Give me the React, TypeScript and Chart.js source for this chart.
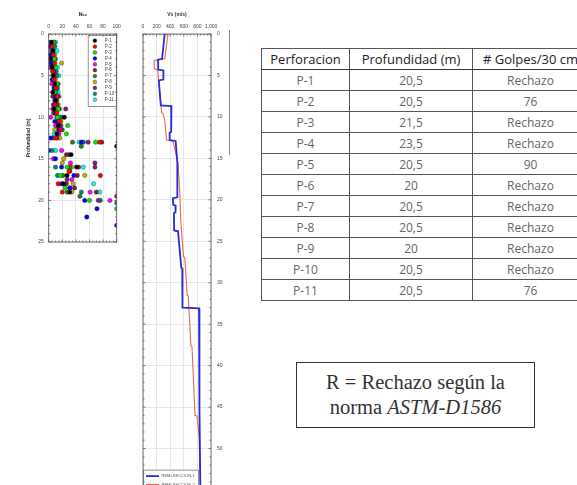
import React, { useEffect, useRef } from 'react';
import { Chart, registerables } from 'chart.js';
Chart.register(...registerables);

// ---------- N60 scatter data ----------
const SERIES_LABELS = ['P-1', 'P-2', 'P-3', 'P-4', 'P-5', 'P-6', 'P-7', 'P-8', 'P-9', 'P-10', 'P-11'];
const SERIES_COLORS = ['#000000', '#ff0000', '#00ee00', '#0000ff', '#ff00ff', '#8b1a2a', '#2e7d1e', '#c8b000', '#7a1f7a', '#008b80', '#00ffff'];

const DEPTH_INT = [1, 2, 3, 4, 5, 6, 7, 8, 9, 10, 11, 12];
const DEPTH_HALF = [1.5, 2.5, 3.5, 4.5, 5.5, 6.5, 7.5, 8.5, 9.5, 10.5, 11.5, 12.5];

const P1_SHALLOW = [4, 6, 3, 5, 7, 9, 6, 10, 8, 23, 14, 12];
const P2_SHALLOW = [5, 7, 9, 6, 8, 11, 13, 9, 12, 16, 18, 10];
const P3_SHALLOW = [7, 5, 8, 10, 6, 12, 9, 11, 14, 13, 28, 26];
const P4_SHALLOW = [3, 2, 4, 6, 5, 8, 10, 7, 11, 9, 15, 3];
const P5_SHALLOW = [6, 4, 7, 2, 9, 5, 8, 12, 6, 3, 10, 15];
const P6_SHALLOW = [2, 5, 3, 8, 7, 10, 6, 12, 9, 14, 17, 12];
const P7_SHALLOW = [8, 6, 10, 9, 12, 14, 7, 11, 15, 17, 12, 13];
const P8_SHALLOW = [5, 9, 19, 7, 10, 8, 12, 14, 11, 18, 9, 16];
const P9_SHALLOW = [3, 6, 4, 2, 8, 7, 10, 9, 25, 12, 18, 14];
const P10_SHALLOW = [9, 7, 6, 11, 8, 13, 15, 10, 7, 14, 20, 6];
const P11_SHALLOW = [10, 12, 8, 13, 15, 9, 14, 11, 16, 19, 13, 8];

// deep points: [depth, N]
const P1_DEEP = [[13.5, 100], [14.5, 33], [16, 41], [17, 27], [18, 22], [19, 31]];
const P2_DEEP = [[13, 75], [16.5, 30], [17, 76], [18, 14], [19, 20], [19.5, 100]];
const P3_DEEP = [[13, 69], [16, 27], [17, 17], [18.5, 24], [20, 60], [21, 100]];
const P4_DEEP = [[13, 48], [14, 0], [15, 10], [16, 19], [17, 37], [18, 19], [18.5, 31], [20, 53], [21, 71], [22, 56], [23, 100]];
const P5_DEEP = [[14, 19], [15, 7], [15.5, 32], [17.5, 34], [19, 61], [20, 90]];
const P6_DEEP = [[13, 78], [14.5, 26], [16, 44], [16.5, 31], [17, 42], [18, 26], [18.5, 38], [19, 70]];
const P7_DEEP = [[13, 35], [13.5, 48], [16, 31], [17, 21], [19, 27], [19.5, 46]];
const P8_DEEP = [[15, 22], [15.5, 20], [16, 34], [17, 53], [18, 36], [19, 34]];
const P9_DEEP = [[13, 58], [14.5, 30], [15.5, 68], [16, 68], [17.5, 27], [18.5, 31], [20, 73]];
const P10_DEEP = [[13, 51], [14, 5], [16, 10], [17, 13], [19, 48], [20, 76], [20.3, 100]];
const P11_DEEP = [[13, 45], [14, 10], [16, 51], [18, 66], [19, 75]];

const SHALLOW = [P1_SHALLOW, P2_SHALLOW, P3_SHALLOW, P4_SHALLOW, P5_SHALLOW, P6_SHALLOW, P7_SHALLOW, P8_SHALLOW, P9_SHALLOW, P10_SHALLOW, P11_SHALLOW];
const DEEP = [P1_DEEP, P2_DEEP, P3_DEEP, P4_DEEP, P5_DEEP, P6_DEEP, P7_DEEP, P8_DEEP, P9_DEEP, P10_DEEP, P11_DEEP];

const N_TICKS = [0, 20, 40, 60, 80, 100];
const DEPTH_TICKS_N = [0, 5, 10, 15, 20, 25];

// ---------- Vs profile data ----------
const VS1_LABEL = 'REMI-SECCION-1';
const VS1_DEPTH = [0, 3.0, 3.1, 4.3, 4.4, 5.5, 5.6, 8.6, 8.7, 11.8, 11.9, 12.8, 12.9, 15.6, 19.7, 19.8, 20.6, 20.7, 21.5, 21.6, 23.7, 23.8, 28.2, 28.3, 33.0, 33.1, 45, 56];
const VS1_VALUES = [320, 280, 220, 225, 300, 300, 232, 262, 418, 415, 392, 392, 480, 505, 505, 440, 445, 480, 478, 455, 458, 515, 563, 578, 580, 824, 830, 845];

const VS2_LABEL = 'REMI-SECCION-2';
const VS2_DEPTH = [0, 3.0, 3.2, 4.2, 4.3, 5.5, 9.5, 9.6, 10.4, 12.8, 12.9, 15.5, 19.0, 22.5, 26.8, 27.0, 31.5, 31.6, 37.6, 37.7, 46.0, 46.1, 48.5, 56];
const VS2_VALUES = [368, 320, 165, 165, 215, 228, 275, 295, 320, 345, 440, 515, 540, 555, 595, 615, 650, 665, 705, 720, 765, 795, 825, 850];

const VS_TICKS = [0, 200, 400, 600, 800, 1000];
const DEPTH_TICKS_VS = [0, 5, 10, 15, 20, 25, 30, 35, 40, 45, 50, 55];

// ---------- table data ----------
const TABLE_HEADERS = ['Perforacion', 'Profundidad (m)', '# Golpes/30 cm'];
const PERFORACION = ['P-1', 'P-2', 'P-3', 'P-4', 'P-5', 'P-6', 'P-7', 'P-8', 'P-9', 'P-10', 'P-11'];
const PROFUNDIDAD = ['20,5', '20,5', '21,5', '23,5', '20,5', '20', '20,5', '20,5', '20', '20,5', '20,5'];
const GOLPES = ['Rechazo', '76', 'Rechazo', 'Rechazo', '90', 'Rechazo', 'Rechazo', 'Rechazo', 'Rechazo', 'Rechazo', '76'];

const TICK_FONT = { family: 'Liberation Sans', size: 5 };
const TICK_COLOR = '#444';
const TICK_OPTS = { font: TICK_FONT, color: TICK_COLOR, maxRotation: 0, minRotation: 0, autoSkip: false };

const framePlugin = {
  id: 'frame',
  afterDraw(chart: any, _args: any, opts: any) {
    const { ctx, chartArea: ca, scales } = chart;
    const x = scales.x, y = scales.y;
    ctx.save();
    ctx.strokeStyle = '#555';
    ctx.lineWidth = 0.8;
    ctx.strokeRect(ca.left, ca.top, ca.right - ca.left, ca.bottom - ca.top);
    ctx.beginPath();
    const nx = Math.round((x.max - x.min) / opts.xMinor);
    for (let i = 0; i <= nx; i++) {
      const v = x.min + i * opts.xMinor;
      const px = x.getPixelForValue(v);
      const major = Math.abs(v / opts.xMajor - Math.round(v / opts.xMajor)) < 1e-6;
      const len = major ? 2.5 : 1.5;
      ctx.moveTo(px, ca.top); ctx.lineTo(px, ca.top + len);
      ctx.moveTo(px, ca.bottom); ctx.lineTo(px, ca.bottom - len);
    }
    const ny = Math.round((y.max - y.min) / opts.yMinor);
    for (let i = 0; i <= ny; i++) {
      const v = y.min + i * opts.yMinor;
      const py = y.getPixelForValue(v);
      const major = Math.abs(v / opts.yMajor - Math.round(v / opts.yMajor)) < 1e-6;
      const len = major ? 2.5 : 1.5;
      ctx.moveTo(ca.left, py); ctx.lineTo(ca.left + len, py);
      ctx.moveTo(ca.right, py); ctx.lineTo(ca.right - len, py);
    }
    ctx.stroke();
    ctx.restore();
  },
};

const nLegendPlugin = {
  id: 'nLegend',
  afterDatasetsDraw(chart: any) {
    const { ctx, chartArea: ca } = chart;
    const w = 28.5, h = 71;
    const x0 = ca.right - w, y0 = ca.top + 1.5;
    ctx.save();
    ctx.fillStyle = '#fff';
    ctx.fillRect(x0, y0, w, h);
    ctx.strokeStyle = '#666';
    ctx.lineWidth = 0.7;
    ctx.strokeRect(x0, y0, w, h);
    ctx.font = '4.5px "Liberation Sans"';
    ctx.textBaseline = 'middle';
    chart.data.datasets.forEach((ds: any, i: number) => {
      const yy = y0 + 5.2 + i * 5.9;
      ctx.beginPath();
      ctx.arc(x0 + 6.7, yy, 1.9, 0, Math.PI * 2);
      ctx.fillStyle = ds.pointBackgroundColor;
      ctx.fill();
      ctx.strokeStyle = '#333';
      ctx.lineWidth = 0.4;
      ctx.stroke();
      ctx.fillStyle = '#444';
      ctx.fillText(ds.label, x0 + 16.5, yy);
    });
    ctx.restore();
  },
};

const vsLegendPlugin = {
  id: 'vsLegend',
  afterDatasetsDraw(chart: any) {
    const { ctx, chartArea: ca, scales } = chart;
    const yTop = scales.y.getPixelForValue(52.6);
    const x0 = ca.left + 0.5, y0 = yTop, w = 55, h = 22;
    ctx.save();
    ctx.fillStyle = '#fff';
    ctx.fillRect(x0, y0, w, h);
    ctx.strokeStyle = '#666';
    ctx.lineWidth = 0.7;
    ctx.strokeRect(x0, y0, w, h);
    ctx.font = '4px "Liberation Sans"';
    ctx.textBaseline = 'middle';
    chart.data.datasets.forEach((ds: any, i: number) => {
      const yy = y0 + 6 + i * 8.3;
      ctx.beginPath();
      ctx.moveTo(x0 + 2.5, yy);
      ctx.lineTo(x0 + 15.5, yy);
      ctx.strokeStyle = ds.borderColor;
      ctx.lineWidth = ds.borderWidth;
      ctx.stroke();
      ctx.fillStyle = '#555';
      ctx.fillText(ds.label, x0 + 18, yy);
    });
    ctx.restore();
  },
};

function buildNDatasets() {
  return SERIES_LABELS.map((label, i) => {
    const depths = i % 2 === 0 ? DEPTH_INT : DEPTH_HALF;
    const pts = SHALLOW[i].map((n, k) => ({ x: n, y: depths[k] }))
      .concat(DEEP[i].map(([d, n]) => ({ x: n, y: d })));
    return {
      label,
      data: pts,
      pointBackgroundColor: SERIES_COLORS[i],
      backgroundColor: SERIES_COLORS[i],
      pointBorderColor: 'rgba(30,30,30,0.75)',
      pointBorderWidth: 0.5,
      pointRadius: 2.2,
      showLine: false,
    };
  });
}

export default function App() {
  const nRef = useRef<HTMLCanvasElement>(null);
  const vsRef = useRef<HTMLCanvasElement>(null);

  useEffect(() => {
    const gridColor = '#dedede';
    const nChart = new Chart(nRef.current as HTMLCanvasElement, {
      type: 'scatter',
      data: { datasets: buildNDatasets() as any },
      options: {
        animation: false,
        responsive: false,
        maintainAspectRatio: false,
        layout: { padding: { left: 0, top: 0, right: 23.3, bottom: 13 } },
        plugins: {
          legend: { display: false },
          tooltip: { enabled: false },
          frame: { xMinor: 5, xMajor: 20, yMinor: 1, yMajor: 5 },
        } as any,
        scales: {
          x: {
            type: 'linear',
            position: 'top',
            min: 0,
            max: 100,
            afterBuildTicks: (s: any) => { s.ticks = N_TICKS.map((v) => ({ value: v })); },
            ticks: { ...TICK_OPTS, padding: 4 },
            grid: { color: gridColor, lineWidth: 0.7, drawTicks: false },
            border: { display: false },
            title: { display: true, text: 'N₆₀', color: '#333', font: { family: 'DejaVu Sans', size: 5, weight: 'bold' }, padding: { top: 12, bottom: 0 } },
            afterFit: (s: any) => { s.height = 34; },
          },
          y: {
            type: 'linear',
            reverse: true,
            min: 0,
            max: 25,
            afterBuildTicks: (s: any) => { s.ticks = DEPTH_TICKS_N.map((v) => ({ value: v })); },
            ticks: { ...TICK_OPTS, padding: 5 },
            grid: { color: gridColor, lineWidth: 0.7, drawTicks: false },
            border: { display: false },
            title: { display: true, text: 'Profundidad (m)', color: '#333', font: { family: 'Liberation Sans', size: 5, weight: 'bold' }, padding: { top: 26, bottom: 0 } },
            afterFit: (s: any) => { s.width = 48.7; },
          },
        } as any,
      },
      plugins: [framePlugin, nLegendPlugin],
    });

    const vsChart = new Chart(vsRef.current as HTMLCanvasElement, {
      type: 'scatter',
      data: {
        datasets: [
          {
            label: VS1_LABEL,
            data: VS1_DEPTH.map((d, i) => ({ x: VS1_VALUES[i], y: d })),
            showLine: true,
            borderColor: '#2b2bd6',
            borderWidth: 1.8,
            pointRadius: 0,
            fill: false,
          },
          {
            label: VS2_LABEL,
            data: VS2_DEPTH.map((d, i) => ({ x: VS2_VALUES[i], y: d })),
            showLine: true,
            borderColor: '#e8674f',
            borderWidth: 1.1,
            pointRadius: 0,
            fill: false,
          },
        ] as any,
      },
      options: {
        animation: false,
        responsive: false,
        maintainAspectRatio: false,
        layout: { padding: { left: 23, top: 0, right: 0, bottom: 0 } },
        plugins: {
          legend: { display: false },
          tooltip: { enabled: false },
          frame: { xMinor: 50, xMajor: 200, yMinor: 1, yMajor: 5 },
        } as any,
        scales: {
          x: {
            type: 'linear',
            position: 'top',
            min: 0,
            max: 1000,
            afterBuildTicks: (s: any) => { s.ticks = VS_TICKS.map((v) => ({ value: v })); },
            ticks: { ...TICK_OPTS, padding: 4 },
            grid: { color: gridColor, lineWidth: 0.7, drawTicks: false },
            border: { display: false },
            title: { display: true, text: 'Vs (m/s)', color: '#333', font: { family: 'Liberation Sans', size: 5, weight: 'bold' }, padding: { top: 12, bottom: 0 } },
            afterFit: (s: any) => { s.height = 34; },
          },
          y: {
            type: 'linear',
            position: 'right',
            reverse: true,
            min: 0,
            max: 55,
            afterBuildTicks: (s: any) => { s.ticks = DEPTH_TICKS_VS.map((v) => ({ value: v })); },
            ticks: { ...TICK_OPTS, padding: 6 },
            grid: { color: gridColor, lineWidth: 0.7, drawTicks: false },
            border: { display: false },
            afterFit: (s: any) => { s.width = 29; },
          },
        } as any,
      },
      plugins: [framePlugin, vsLegendPlugin],
    });

    return () => {
      nChart.destroy();
      vsChart.destroy();
    };
  }, []);

  const cellBase: React.CSSProperties = {
    border: '1px solid #555',
    padding: 0,
    height: 20,
    textAlign: 'center',
    verticalAlign: 'middle',
    whiteSpace: 'nowrap',
    overflow: 'hidden',
  };

  return (
    <div style={{ position: 'fixed', left: 0, top: 0, width: 577, height: 485, overflow: 'hidden', background: '#fff' }}>
      <canvas ref={nRef} width={140} height={255} style={{ position: 'absolute', left: 0, top: 0, width: 140, height: 255 }} />
      <canvas ref={vsRef} width={120} height={499} style={{ position: 'absolute', left: 120, top: 0, width: 120, height: 499 }} />
      <div style={{ position: 'absolute', left: 229, top: 30, width: 1, height: 125, background: '#888' }} />
      <table
        style={{
          position: 'absolute',
          left: 261,
          top: 48,
          borderCollapse: 'collapse',
          tableLayout: 'fixed',
          width: 327,
          border: '1.5px solid #333',
          fontFamily: '"Open Sans", sans-serif',
        }}
      >
        <colgroup>
          <col style={{ width: 88 }} />
          <col style={{ width: 123 }} />
          <col style={{ width: 116 }} />
        </colgroup>
        <thead>
          <tr>
            {TABLE_HEADERS.map((h) => (
              <th key={h} style={{ ...cellBase, fontWeight: 'normal', fontSize: 13, color: '#222', borderBottom: '1.5px solid #333' }}>{h}</th>
            ))}
          </tr>
        </thead>
        <tbody>
          {PERFORACION.map((p, i) => (
            <tr key={p}>
              <td style={{ ...cellBase, fontSize: 12, color: '#666' }}>{p}</td>
              <td style={{ ...cellBase, fontSize: 12, color: '#666' }}>{PROFUNDIDAD[i]}</td>
              <td style={{ ...cellBase, fontSize: 12, color: '#666' }}>{GOLPES[i]}</td>
            </tr>
          ))}
        </tbody>
      </table>
      <div
        style={{
          position: 'absolute',
          left: 296,
          top: 362,
          width: 239,
          height: 66,
          boxSizing: 'border-box',
          border: '1.5px solid #333',
          display: 'flex',
          flexDirection: 'column',
          justifyContent: 'center',
          alignItems: 'center',
          fontFamily: '"Liberation Serif", serif',
          fontSize: 20.5,
          lineHeight: '25px',
          color: '#333',
        }}
      >
        <div>R = Rechazo según la</div>
        <div>norma <i>ASTM-D1586</i></div>
      </div>
    </div>
  );
}
